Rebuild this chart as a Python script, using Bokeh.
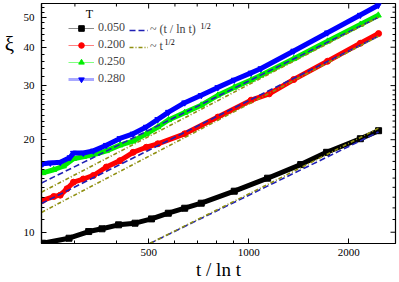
import math
from bokeh.plotting import figure
from bokeh.layouts import row
from bokeh.models import (FixedTicker, Legend, LegendItem, Label, Range1d,
                          BasicTickFormatter)
from bokeh.embed import file_html
from bokeh.resources import INLINE

SERIF = "Liberation Serif"

# ---- data (x = t / ln t, y = xi) ----
temps = ["0.050", "0.200", "0.250", "0.280"]

x_T050 = [240, 288, 330, 362, 406, 455, 510, 573, 642, 720, 905, 1140, 1434, 1716, 2168, 2460]
y_T050 = [9.21, 9.56, 10.05, 10.26, 10.57, 10.7, 11.05, 11.53, 11.97, 12.43, 13.6, 14.99, 16.6, 18.2, 20.15, 21.4]

x_T200 = [240, 259, 271, 284, 297, 318, 341, 373, 410, 449, 492, 533, 642, 808, 1017, 1153, 1367, 1727, 2168, 2460]
y_T200 = [12.7, 13.07, 13.2, 13.85, 14.55, 14.9, 15.3, 16.3, 17.1, 18.2, 18.9, 19.4, 20.9, 23.7, 26.9, 28.2, 31.4, 36.0, 41.2, 44.3]

x_T250 = [240, 259, 277, 297, 318, 349, 373, 410, 449, 492, 533, 574, 642, 720, 808, 905, 1017, 1089, 1367, 1727, 2168, 2455]
y_T250 = [15.6, 15.97, 16.4, 17.35, 17.6, 18.0, 18.4, 19.2, 19.8, 20.9, 22.0, 23.2, 24.5, 25.9, 27.9, 29.6, 31.3, 32.4, 36.7, 41.8, 47.4, 50.8]

x_T280 = [240, 253, 271, 290, 297, 318, 341, 373, 410, 449, 492, 533, 574, 642, 720, 808, 905, 1017, 1089, 1367, 1727, 2168, 2455]
y_T280 = [16.7, 16.8, 16.9, 17.5, 18.1, 18.1, 18.4, 19.2, 20.2, 20.9, 22.0, 23.3, 24.6, 26.4, 27.9, 29.6, 31.3, 33.0, 34.1, 38.9, 44.6, 50.9, 54.8]

# guide lines: ~ (t/ln t)^(1/2) (dashed) and ~ t^(1/2) (dash-dot)
fit_x = [238, 2455]
dash_hi = [14.46, 50.05]
dot_hi = [13.5, 50.05]
dash_lo = [12.4, 43.4]
dot_lo = [11.6, 43.4]
fit_x_black = [504, 2460]
dash_black = [9.19, 21.2]
dot_x_black = [504, 1140, 2460]
dot_black = [9.19, 14.3, 21.8]

x_ticks = [500, 1000, 2000]
x_minor = [300, 400, 600, 700, 800, 900]
y_ticks = [10, 20, 30, 40, 50]
y_minor = [11, 12, 13, 14, 15, 16, 17, 18, 19, 21, 22, 23, 24, 25, 26, 27, 28, 29,
           32, 34, 36, 38, 42, 44, 46, 48, 52, 54]

X_MIN, X_MAX = 238, 2766
Y_MIN, Y_MAX = 9.19, 55.5

colors = ["#000000", "#ff0000", "#00ee00", "#0000ff"]
light = ["#8c8c8c", "#ff8080", "#80ff80", "#a8a8ff"]
markers = ["square", "circle", "triangle", "inverted_triangle"]
DASH_C = "#1f1fb4"
DOT_C = "#8f8f10"

FRAME_W, FRAME_H = 356, 240

# narrow strip on the left that carries the y-axis symbol
xi_fig = figure(width=20, height=282, x_range=Range1d(0, 1), y_range=Range1d(0, 1),
                x_axis_location=None, y_axis_location=None,
                min_border=0, output_backend="svg", toolbar_location=None)
xi_fig.grid.visible = False
xi_fig.outline_line_color = None
xi_fig.add_layout(Label(x=9, y=200, x_units="screen", y_units="screen", text="ξ",
                        text_font=SERIF, text_font_size="21px", text_color="black",
                        text_align="center", text_baseline="middle"))

p = figure(x_axis_type="log", y_axis_type="log",
           x_range=Range1d(X_MIN, X_MAX), y_range=Range1d(Y_MIN, Y_MAX),
           width=379, height=282,
           min_border_left=19, min_border_right=4, min_border_top=3, min_border_bottom=39,
           output_backend="svg", toolbar_location=None)
p.grid.visible = False
p.outline_line_color = "black"
p.outline_line_width = 1.2
p.background_fill_color = "white"
p.border_fill_color = "white"

for ax in (p.xaxis[0], p.yaxis[0]):
    ax.major_tick_in = 5
    ax.major_tick_out = 0
    ax.minor_tick_in = 3
    ax.minor_tick_out = 0
    ax.axis_line_color = "black"
    ax.axis_line_width = 1.2
    ax.major_tick_line_color = "black"
    ax.minor_tick_line_color = "black"
    ax.formatter = BasicTickFormatter()
    ax.major_label_text_font = SERIF
    ax.major_label_text_font_size = "11px"
    ax.major_label_text_color = "black"

p.xaxis.major_label_standoff = 5
p.yaxis.major_label_standoff = 7
p.xaxis.ticker = FixedTicker(ticks=x_ticks, minor_ticks=x_minor)
p.yaxis.ticker = FixedTicker(ticks=y_ticks, minor_ticks=y_minor)
p.xaxis.axis_label = "t / ln t"
p.xaxis.axis_label_text_font = SERIF
p.xaxis.axis_label_text_font_size = "19px"
p.xaxis.axis_label_text_font_style = "normal"
p.xaxis.axis_label_text_color = "black"
p.xaxis.axis_label_standoff = 0

# mirror tick marks on the top and right frame edges
ppd_x = FRAME_W / math.log10(X_MAX / X_MIN)
ppd_y = FRAME_H / math.log10(Y_MAX / Y_MIN)
top_x = x_ticks + x_minor
top_len = [5] * len(x_ticks) + [3] * len(x_minor)
p.segment(x0=top_x, x1=top_x, y0=[Y_MAX] * len(top_x),
          y1=[Y_MAX / 10 ** (L / ppd_y) for L in top_len], line_color="black", line_width=1)
right_y = y_ticks + y_minor
right_len = [5] * len(y_ticks) + [3] * len(y_minor)
p.segment(x0=[X_MAX] * len(right_y), x1=[X_MAX / 10 ** (L / ppd_x) for L in right_len],
          y0=right_y, y1=right_y, line_color="black", line_width=1)

# ---- data series ----
series = [(x_T050, y_T050), (x_T200, y_T200), (x_T250, y_T250), (x_T280, y_T280)]
items1 = []
for (xs, ys), t, c, lc, m in zip(series, temps, colors, light, markers):
    lw = 3 if t == "0.280" else 1
    r_thin = p.line(xs, ys, line_color=lc, line_width=lw)      # legend style, hidden below
    p.line(xs, ys, line_color=c, line_width=5)
    r_mark = p.scatter(xs, ys, marker=m, size=6, color=c)
    items1.append(LegendItem(label=t, renderers=[r_thin, r_mark]))

# ---- guide lines ----
r_dash = p.line(fit_x, dash_hi, line_color=DASH_C, line_dash="6 3", line_width=1.6)
p.line(fit_x, dash_lo, line_color=DASH_C, line_dash="6 3", line_width=1.6)
p.line(fit_x_black, dash_black, line_color=DASH_C, line_dash="6 3", line_width=1.6)
r_dot = p.line(fit_x, dot_hi, line_color=DOT_C, line_dash="4 2 1 2", line_width=1.6)
p.line(fit_x, dot_lo, line_color=DOT_C, line_dash="4 2 1 2", line_width=1.6)
p.line(dot_x_black, dot_black, line_color=DOT_C, line_dash="4 2 1 2", line_width=1.6)

# ---- legends ----
leg1 = Legend(items=items1, location=(27, 157), glyph_width=26, glyph_height=14,
              label_height=14, label_standoff=4, spacing=2, padding=0, margin=0,
              border_line_alpha=0, background_fill_alpha=0,
              label_text_font=SERIF, label_text_font_size="12px")
leg2 = Legend(items=[LegendItem(label="~ (t / ln t)", renderers=[r_dash]),
                     LegendItem(label="~ t", renderers=[r_dot])],
              location=(88, 189), glyph_width=19, glyph_height=14,
              label_height=14, label_standoff=2, spacing=2, padding=0, margin=0,
              border_line_alpha=0, background_fill_alpha=0,
              label_text_font=SERIF, label_text_font_size="12px")
p.add_layout(leg1, "center")
p.add_layout(leg2, "center")

txt = dict(x_units="screen", y_units="screen", text_font=SERIF, text_color="black")
p.add_layout(Label(x=48, y=230, text="T", text_font_size="12px",
                   text_align="center", text_baseline="middle", **txt))
p.add_layout(Label(x=159, y=217, text="1/2", text_font_size="8px",
                   text_align="left", text_baseline="middle", **txt))
p.add_layout(Label(x=123, y=201, text="1/2", text_font_size="8px",
                   text_align="left", text_baseline="middle", **txt))

layout = row(xi_fig, p)
open("out.html", "w").write(file_html(layout, INLINE))
